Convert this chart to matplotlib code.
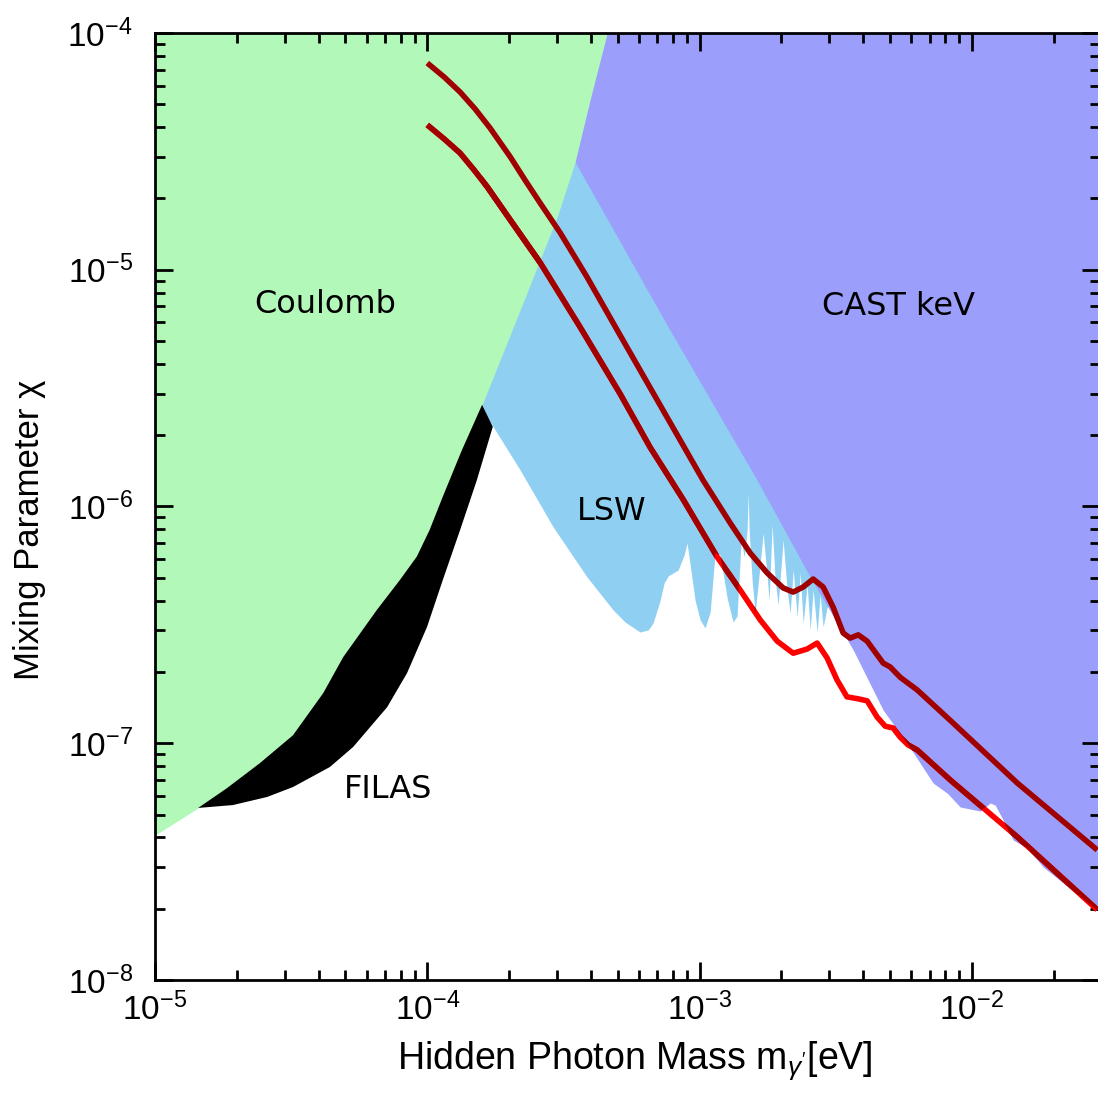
import numpy as np
import matplotlib
matplotlib.use("Agg")
import matplotlib.pyplot as plt
from matplotlib.ticker import FixedLocator, FuncFormatter, LogLocator, NullFormatter

plt.rcParams['font.family'] = ['Liberation Sans', 'DejaVu Sans']
plt.rcParams['mathtext.fontset'] = 'custom'
plt.rcParams['mathtext.rm'] = 'Liberation Sans'
plt.rcParams['mathtext.it'] = 'Liberation Sans:italic'

#----------------------------------------------------
#   data
#----------------------------------------------------
# Coulomb: lower boundary of the excluded region
coul_x = [1.0e-5, 1.44e-5, 1.834e-5, 2.43e-5, 3.21e-5, 4.15e-5, 4.91e-5, 6.52e-5, 7.94e-5,
          9.15e-5, 1.02e-4, 1.14e-4, 1.34e-4, 1.59e-4, 2.07e-4, 3.00e-4, 3.49e-4, 3.96e-4,
          4.58e-4]
coul_y = [4.09e-8, 5.33e-8, 6.45e-8, 8.25e-8, 1.08e-7, 1.63e-7, 2.31e-7, 3.65e-7, 4.90e-7,
          6.14e-7, 7.96e-7, 1.10e-6, 1.73e-6, 2.69e-6, 5.73e-6, 1.67e-5, 2.85e-5, 5.21e-5,
          1.0e-4]

# FILAS: top and bottom edge of the band
filas_top_x = coul_x[1:14]
filas_top_y = coul_y[1:14]
filas_bot_x = [1.44e-5, 1.93e-5, 2.58e-5, 3.21e-5, 4.39e-5, 5.34e-5, 7.12e-5, 8.43e-5,
               9.98e-5, 1.14e-4, 1.32e-4, 1.52e-4, 1.74e-4]
filas_bot_y = [5.33e-8, 5.48e-8, 5.93e-8, 6.53e-8, 7.94e-8, 9.64e-8, 1.42e-7, 1.98e-7,
               3.10e-7, 4.89e-7, 7.96e-7, 1.29e-6, 2.17e-6]

# LSW: lower boundary with the resonance fringes
lsw_x = [1.59e-4, 1.658e-4, 2.19e-4, 2.90e-4, 3.86e-4, 4.82e-4, 5.33e-4, 6.05e-4, 6.48e-4,
         6.75e-4, 7.17e-4, 7.41e-4, 7.67e-4, 8.34e-4, 8.78e-4, 9.00e-4, 9.24e-4, 9.63e-4,
         1.005e-3, 1.048e-3, 1.094e-3, 1.141e-3, 1.190e-3, 1.263e-3, 1.328e-3, 1.374e-3,
         1.422e-3, 1.459e-3, 1.496e-3, 1.509e-3, 1.521e-3, 1.560e-3, 1.600e-3, 1.641e-3,
         1.713e-3, 1.772e-3, 1.802e-3, 1.848e-3, 1.896e-3, 1.945e-3, 2.028e-3, 2.098e-3,
         2.152e-3, 2.208e-3, 2.284e-3, 2.342e-3, 2.402e-3, 2.485e-3, 2.549e-3, 2.614e-3,
         2.704e-3, 2.773e-3, 2.845e-3, 2.943e-3, 3.07e-3]
lsw_y = [2.69e-6, 2.39e-6, 1.43e-6, 8.19e-7, 5.04e-7, 3.65e-7, 3.25e-7, 2.95e-7, 3.01e-7,
         3.22e-7, 4.02e-7, 4.75e-7, 5.09e-7, 5.39e-7, 6.24e-7, 7.01e-7, 5.66e-7, 4.02e-7,
         3.32e-7, 3.07e-7, 3.58e-7, 6.36e-7, 6.24e-7, 4.11e-7, 3.25e-7, 3.45e-7,
         7.22e-7, 6.12e-7, 7.96e-7, 1.14e-6, 7.96e-7, 4.89e-7, 3.55e-7, 4.66e-7,
         7.73e-7, 5.04e-7, 4.02e-7, 8.35e-7, 4.89e-7, 3.84e-7, 7.22e-7, 4.44e-7,
         3.55e-7, 5.39e-7, 3.41e-7, 5.24e-7, 3.22e-7, 4.66e-7, 3.01e-7, 4.44e-7,
         2.95e-7, 4.23e-7, 3.10e-7, 3.76e-7, 4.02e-7]

# CAST keV: lower boundary
cast_x = [3.075e-4, 3.49e-4, 7.67e-4, 1.628e-3, 2.549e-3, 3.667e-3, 4.727e-3, 5.79e-3,
          7.21e-3, 8.12e-3, 9.07e-3, 1.074e-2, 1.168e-2, 1.219e-2, 1.304e-2, 1.419e-2,
          1.598e-2, 1.830e-2, 2.96e-2]
cast_y = [3.67e-5, 2.85e-5, 5.73e-6, 1.29e-6, 5.04e-7, 2.48e-7, 1.38e-7, 1.00e-7,
          6.79e-8, 6.16e-8, 5.38e-8, 5.17e-8, 5.59e-8, 5.48e-8, 4.74e-8, 3.90e-8,
          3.61e-8, 3.00e-8, 1.93e-8]

# sensitivity curves
up_x = [1.00e-4, 1.153e-4, 1.32e-4, 1.498e-4, 1.70e-4, 2.02e-4, 2.287e-4, 2.60e-4, 3.08e-4,
        3.86e-4, 4.98e-4, 6.31e-4, 8.13e-4, 1.031e-3, 1.296e-3, 1.535e-3, 1.772e-3,
        2.028e-3, 2.208e-3, 2.402e-3, 2.614e-3, 2.845e-3, 3.095e-3, 3.370e-3, 3.575e-3,
        3.826e-3, 4.126e-3, 4.494e-3, 4.727e-3, 5.015e-3, 5.456e-3, 6.30e-3, 8.33e-3,
        1.47e-2, 2.89e-2]
up_y = [7.47e-5, 6.52e-5, 5.63e-5, 4.78e-5, 3.97e-5, 2.99e-5, 2.39e-5, 1.91e-5, 1.43e-5,
        9.32e-6, 5.57e-6, 3.46e-6, 2.08e-6, 1.29e-6, 8.52e-7, 6.36e-7, 5.24e-7,
        4.53e-7, 4.35e-7, 4.57e-7, 4.94e-7, 4.57e-7, 3.76e-7, 2.92e-7, 2.78e-7,
        2.87e-7, 2.70e-7, 2.36e-7, 2.18e-7, 2.10e-7, 1.90e-7, 1.68e-7, 1.25e-7,
        6.79e-8, 3.54e-8]
lo_x = [1.00e-4, 1.153e-4, 1.32e-4, 1.485e-4, 1.66e-4, 2.02e-4, 2.60e-4, 3.64e-4, 5.11e-4,
        6.58e-4, 8.71e-4, 1.161e-3, 1.41e-3, 1.67e-3, 1.928e-3, 2.208e-3, 2.485e-3,
        2.704e-3, 2.943e-3, 3.20e-3, 3.48e-3, 3.83e-3, 4.13e-3, 4.49e-3, 4.81e-3, 5.14e-3,
        5.46e-3, 5.84e-3, 6.30e-3, 8.33e-3, 1.47e-2, 2.89e-2]
lo_y = [4.09e-5, 3.57e-5, 3.11e-5, 2.64e-5, 2.24e-5, 1.62e-5, 1.07e-5, 5.73e-6, 2.99e-6,
        1.78e-6, 1.07e-6, 6.12e-7, 4.44e-7, 3.32e-7, 2.70e-7, 2.40e-7, 2.50e-7,
        2.65e-7, 2.29e-7, 1.85e-7, 1.57e-7, 1.54e-7, 1.51e-7, 1.29e-7, 1.18e-7, 1.16e-7,
        1.06e-7, 9.83e-8, 9.37e-8, 7.00e-8, 4.02e-8, 1.98e-8]

x_ticks = [1e-5, 1e-4, 1e-3, 1e-2]
y_ticks = [1e-8, 1e-7, 1e-6, 1e-5, 1e-4]

c_green = '#b1f8b9'
c_lsw = '#8fd0f2'
c_cast = '#9b9ffb'
c_dark = '#a00000'
c_red = '#ff0000'

#----------------------------------------------------
#   draw
#----------------------------------------------------
fig = plt.figure(figsize=(10.98, 10.93), dpi=100)
ax = fig.add_axes([0.1412, 0.1034, 0.8607, 0.8664])
ax.set_xscale('log')
ax.set_yscale('log')

lsw = ax.fill_between(lsw_x, lsw_y, 1e-4, color=c_lsw, lw=0, zorder=1)
cast = ax.fill_between(cast_x, cast_y, 1e-4, color=c_cast, lw=0, zorder=1.1)
coul = ax.fill_between(coul_x, coul_y, 1e-4, color=c_green, lw=0, zorder=1.2)
ax.fill(filas_top_x + filas_bot_x[::-1], filas_top_y + filas_bot_y[::-1],
        color='black', lw=0, zorder=1.3)

# lower curve: red, darker where it runs over an excluded region
ax.plot(lo_x, lo_y, color=c_red, lw=4, solid_capstyle='butt', zorder=2)
for coll in (lsw, cast, coul):
    for p in coll.get_paths():
        ln, = ax.plot(lo_x, lo_y, color=c_dark, lw=4, solid_capstyle='butt', zorder=2.1)
        ln.set_clip_path(p, ax.transData)
ax.plot(up_x, up_y, color=c_dark, lw=4, solid_capstyle='butt', zorder=2.2)

txt = dict(transform=ax.transAxes, ha='center', va='baseline', fontsize=23,
           family='DejaVu Sans', zorder=5)
ax.text(0.1799, 0.7043, 'Coulomb', **txt)
ax.text(0.7862, 0.7022, 'CAST keV', **txt)
ax.text(0.4836, 0.4857, 'LSW', **txt)
ax.text(0.2466, 0.1922, 'FILAS', **txt)

ax.set_xlim(1e-5, 2.96e-2)
ax.set_ylim(1e-8, 1e-4)

fmt = FuncFormatter(lambda v, p: r'$\mathregular{10^{%d}}$' % round(np.log10(v)))
for axis, ticks in ((ax.xaxis, x_ticks), (ax.yaxis, y_ticks)):
    axis.set_major_locator(FixedLocator(ticks))
    axis.set_major_formatter(fmt)
    axis.set_minor_locator(LogLocator(base=10, subs=np.arange(2, 10), numticks=20))
    axis.set_minor_formatter(NullFormatter())

ax.tick_params(which='both', direction='in', top=True, right=True, width=2, labelsize=24)
ax.tick_params(which='major', length=13)
ax.tick_params(which='minor', length=7)
ax.tick_params(axis='x', pad=9)
ax.tick_params(axis='y', pad=16)
for s in ax.spines.values():
    s.set_linewidth(2)
    s.set_zorder(6)

ax.set_xlabel("Hidden Photon Mass m$_{\\gamma'}$[eV]", fontsize=27)
ax.set_ylabel("Mixing Parameter χ", fontsize=25)
ax.xaxis.set_label_coords(0.508, -0.063)
ax.yaxis.set_label_coords(-0.115, 0.475)

plt.savefig("out.png", dpi=100)
